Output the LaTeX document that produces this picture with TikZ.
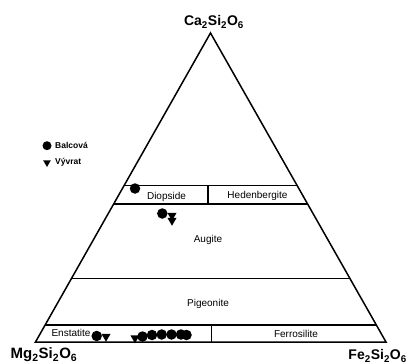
\documentclass[tikz,border=0pt]{standalone}
\usepackage{fontspec}
\setmainfont{Liberation Sans}
\usetikzlibrary{calc,shapes.geometric}
\begin{document}
\begin{tikzpicture}[x=1pt,y=-1pt,
  edge/.style={line width=1.5pt, line join=miter},
  endlabel/.style={font=\fontsize{14}{14}\selectfont\bfseries, inner sep=0pt},
  field/.style={font=\fontsize{10}{10}\selectfont, inner sep=0pt},
  legtext/.style={font=\fontsize{8.5}{8.5}\selectfont\bfseries, inner sep=0pt, anchor=west},
  dot/.style={circle, fill=black, inner sep=0pt, minimum size=10.5pt},
  tri/.style={regular polygon, regular polygon sides=3, shape border rotate=180, fill=black, inner sep=0pt, minimum size=10.5pt},
]
\useasboundingbox (0,0) rectangle (408,364);
% corners
\coordinate (A) at (210.5,33);
\coordinate (B) at (35.5,342);
\coordinate (C) at (386,342);
% boundary lines (fractions of Ca component)
\coordinate (L50) at ($(B)!0.506!(A)$);
\coordinate (R50) at ($(C)!0.506!(A)$);
\coordinate (L45) at ($(B)!0.447!(A)$);
\coordinate (R45) at ($(C)!0.447!(A)$);
\coordinate (L20) at ($(B)!0.205!(A)$);
\coordinate (R20) at ($(C)!0.205!(A)$);
\coordinate (L05) at ($(B)!0.055!(A)$);
\coordinate (R05) at ($(C)!0.055!(A)$);
\coordinate (xd) at (208,0);
\coordinate (xe) at (211.3,0);

\draw[edge] (A) -- (B) -- (C) -- cycle;
\draw[edge] (L50) -- (R50);
\draw[edge] (L45) -- (R45);
\draw[edge] (L20) -- (R20);
\draw[edge] (L05) -- (R05);
\draw[edge] (xd |- L50) -- (xd |- L45);
\draw[edge] (xe |- L05) -- (xe |- B);

% corner labels
\node[endlabel] (ca) at (214,22) {Ca\textsubscript{2}Si\textsubscript{2}O\textsubscript{6}};
\node[endlabel, font=\fontsize{15}{15}\selectfont\bfseries] (mg) at (44,355) {Mg\textsubscript{2}Si\textsubscript{2}O\textsubscript{6}};
\node[endlabel, anchor=east] (fe) at (407,356) {Fe\textsubscript{2}Si\textsubscript{2}O\textsubscript{6}};

% field labels
\node[field] (diop) at (166.5,196.5) {Diopside};
\node[field] (hed) at (257.5,195.5) {Hedenbergite};
\node[field] (aug) at (208,240) {Augite};
\node[field] (pig) at (208,303.5) {Pigeonite};
\node[field] (ens) at (71,333) {Enstatite};
\node[field] (fer) at (296,334) {Ferrosilite};

% legend
\node[dot, minimum size=9pt] (lg1) at (47,145.7) {};
\node[legtext] (lt1) at (55,145.7) {Balcová};
\node[tri, minimum size=9pt] (lg2) at (47,162.5) {};
\node[legtext] (lt2) at (55,162.3) {Vývrat};

% data: Balcová
\node[dot] (b1) at (135,188.5) {};
\node[dot] (b2) at (162.3,213.5) {};
\node[dot] (b3) at (96.7,336) {};
\node[dot] (b4) at (142.5,336.5) {};
\node[dot] (b5) at (152,335) {};
\node[dot] (b6) at (161.7,334.5) {};
\node[dot] (b7) at (171.5,334.5) {};
\node[dot] (b8) at (181,334.5) {};
\node[dot] (b9) at (186.5,335) {};
% data: Vývrat
\node[tri] (v1) at (172,215.5) {};
\node[tri] (v2) at (172,220.5) {};
\node[tri] (v3) at (106,336.5) {};
\node[tri] (v4) at (135,338) {};
\end{tikzpicture}
\end{document}
